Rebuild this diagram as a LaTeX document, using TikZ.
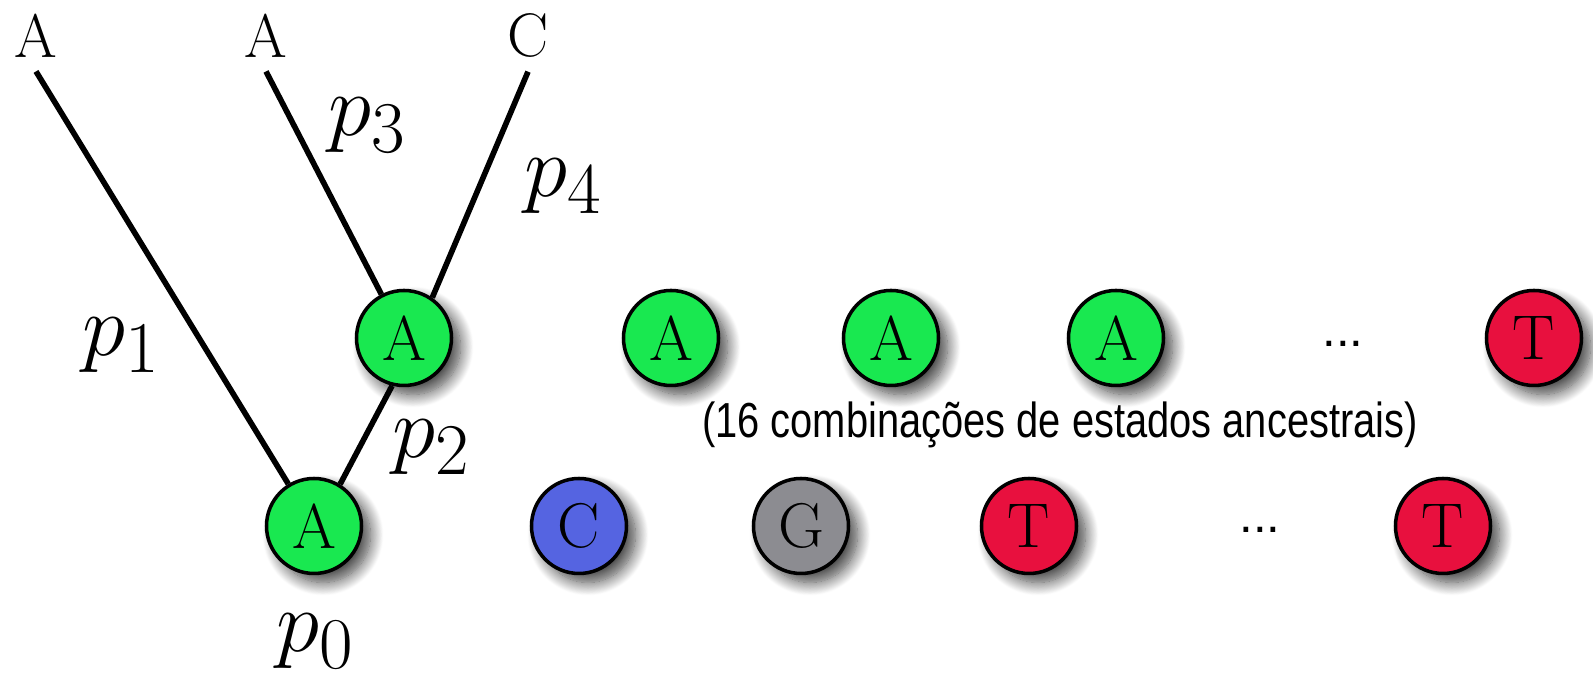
\documentclass[tikz,border=0pt]{standalone}
\usepackage{fontspec}
\newfontfamily\capsans{Liberation Sans}
\usepackage{tikz}
\usetikzlibrary{positioning, shadows.blur, backgrounds}

\definecolor{stgreen}{RGB}{25,232,80}
\definecolor{stblue}{RGB}{85,100,225}
\definecolor{stgray}{RGB}{140,140,145}
\definecolor{stred}{RGB}{232,16,62}

\begin{document}
\begin{tikzpicture}[
  x=1mm, y=-1mm,
  state/.style={circle, draw, line width=1pt, minimum size=9.5mm, inner sep=0pt,
                font=\fontsize{18}{18}\selectfont,
                blur shadow={shadow xshift=0.9mm, shadow yshift=-0.9mm,
                             shadow blur radius=1.3mm, shadow blur steps=16,
                             shadow opacity=75}},
  leaf/.style={font=\fontsize{17.5}{17.5}\selectfont, inner sep=1.3mm},
  prob/.style={font=\fontsize{28}{28}\selectfont, inner sep=0pt},
  more/.style={font=\capsans\fontsize{14}{14}\selectfont, inner sep=0pt},
  branch/.style={line width=1.6pt}
]
\useasboundingbox (0,0) rectangle (159.3,68.0);

% tips of the tree
\node[leaf] (leafA) at (3.6,3.6)  {A};
\node[leaf] (leafB) at (26.6,3.6) {A};
\node[leaf] (leafC) at (52.8,3.6) {C};

% ancestral states on the tree
\node[state, fill=stgreen] (anc)  at (40.4,33.8) {A};
\node[state, fill=stgreen] (root) at (31.4,52.6) {A};

% other combinations
\node[state, fill=stgreen] (alt1) at (67.1,33.8)  {A};
\node[state, fill=stgreen] (alt2) at (89.1,33.8)  {A};
\node[state, fill=stgreen] (alt3) at (111.6,33.8) {A};
\node[more] (dotsup) at (134.3,34.4) {...};
\node[state, fill=stred]   (alt4) at (153.4,33.8) {T};

\node[state, fill=stblue]  (low1) at (57.9,52.6)  {C};
\node[state, fill=stgray]  (low2) at (80.1,52.6)  {G};
\node[state, fill=stred]   (low3) at (102.9,52.6) {T};
\node[more] (dotslow) at (126.0,53.0) {...};
\node[state, fill=stred]   (low4) at (144.3,52.6) {T};

\node[more] (caption) at (106.0,42.5)
  {\scalebox{0.81}[1]{(16 combinações de estados ancestrais)}};

% branch probabilities
\node[prob] (p0) at (31.6,64.1) {$p_0$};
\node[prob] (p1) at (12.2,34.5) {$p_1$};
\node[prob] (p2) at (43.2,44.7) {$p_2$};
\node[prob] (p3) at (36.8,12.5) {$p_3$};
\node[prob] (p4) at (56.4,18.6) {$p_4$};

\begin{scope}[on background layer]
\draw[branch] (leafA.south) -- (root);
\draw[branch] (leafB.south) -- (anc);
\draw[branch] (leafC.south) -- (anc.55);
\draw[branch] (root.58) -- (anc.-104);
\end{scope}
\end{tikzpicture}
\end{document}
